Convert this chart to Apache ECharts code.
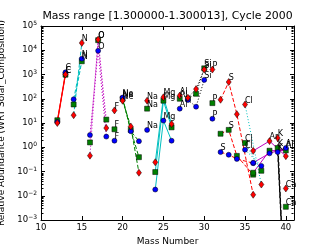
<!DOCTYPE html>
<html><head><meta charset="utf-8">
<script src="https://cdn.jsdelivr.net/npm/echarts@6/dist/echarts.min.js"></script>
<style>html,body{margin:0;padding:0;background:#fff}#c{width:327px;height:245px}</style>
</head><body><div id="c"></div>
<script>
// ---- data ----
const elements = ['C','N','O','F','Ne','Na','Mg','Al','Si','P','S','Cl','Ar','K','Ca'];
const isoMasses = [[12,13],[14,15],[16,17,18],[19],[20,21,22],[23],[24,25,26],[27],[28,29,30],[31],[32,33,34,36],[35,37],[36,38,40],[39,40],[40]];
const redValues = [[10,1000],[21,2.0e4],[0.45,2.75e4,6.2],[33],[83,7.2,0.089],[83],[0.24,115,9.1],[135],[110,250,1600],[1600],[91,490,23,0.011],[58,0.029],[0.71,1.8,0.43],[2.4,1e-7],[0.02]];
const blueValues = [[11,1230],[95,4500],[3.2,9500,2.75],[1.86],[112,4.6,1.78],[5.2],[0.018,12.6,1.86],[39],[89,47,600],[15],[0.63,0.49,0.33,0.22],[0.79,0.17],[0.23,0.56,0.93],[0.63,1e-7],[3e-4]];
const greenValues = [[13,980],[58,3500],[1.58,2.6e4,13.8],[5.5],[100,5.2,0.39],[39],[0.095,83,6.6],[100],[100,160,1800],[66],[3.6,5.2,0.44,0.074],[1.5,0.107],[0.089,0.72,0.74],[0.93,1e-7],[0.0035]];
const xTickLabels = [10,15,20,25,30,35,40];
const yTickExponents = [-3,-2,-1,0,1,2,3,4,5];
const titleText = 'Mass range [1.300000-1.300013], Cycle 2000';
const xName = 'Mass Number';
const yName = 'Relative Abundance (WRT Solar_Composition)';

// ---- styles ----
const FONT = 'DejaVu Sans';
const elemLine = [
  {c:'#ff0000', t:'solid'}, {c:'#00bfbf', t:[4,2]}, {c:'#bf00bf', t:[1,2]}, null,
  {c:'#008000', t:[4,2]}, null, {c:'#00bfbf', t:'solid'}, null,
  {c:'#000000', t:[1,2]}, null, {c:'#ff0000', t:[4,2]}, {c:'#00bfbf', t:[1,2]},
  {c:'#bf00bf', t:'solid'}, {c:'#000000', t:[4,2]}, null
];
const zones = [
  {vals: greenValues, color:'#008000', symbol:'rect', size:5},
  {vals: blueValues, color:'#0000ff', symbol:'circle', size:5},
  {vals: redValues, color:'#ff0000', symbol:'diamond', size:[5,7]}
];
const xMin = 10, xMax = 41, yMin = 1e-3, yMax = 1e5;

const series = [];
zones.forEach(z => {
  elements.forEach((el, i) => {
    const st = elemLine[i];
    if (!st || isoMasses[i].length < 2) return;
    series.push({
      type:'line', xAxisIndex:0, yAxisIndex:0, showSymbol:false, symbol:'none', silent:true, z:2,
      data: isoMasses[i].map((m, k) => [m, z.vals[i][k]]),
      lineStyle:{color:st.c, width:1, type:st.t}, clip:true
    });
  });
});
zones.forEach(z => {
  const data = [];
  elements.forEach((el, i) => {
    const vs = z.vals[i];
    let mi = 0; vs.forEach((v,k)=>{ if (v > vs[mi]) mi = k; });
    isoMasses[i].forEach((m, k) => {
      const item = {value:[m, vs[k]]};
      if (k === mi) item.label = {show:true, formatter: el};
      data.push(item);
    });
  });
  series.push({
    type:'scatter', xAxisIndex:0, yAxisIndex:0, z:3, clip:true, silent:true,
    symbol:z.symbol, symbolSize:z.size,
    itemStyle:{color:z.color, borderColor:'#000', borderWidth:0.5, opacity:1},
    label:{show:false, position:'inside', align:'left', verticalAlign:'bottom', offset:[2,3],
      fontFamily:FONT, fontSize:8, color:'#000'},
    labelLayout:{hideOverlap:false},
    data
  });
});
const minorVals = [];
yTickExponents.slice(0,-1).forEach(e => { for (let k=2;k<=9;k++) minorVals.push([xMin, k*Math.pow(10,e)]); });
series.push({
  type:'custom', xAxisIndex:0, yAxisIndex:0, silent:true, z:4, clip:false,
  data: minorVals,
  renderItem:(params, api) => {
    const v = api.value(1);
    const l = api.coord([xMin, v]);
    const r = api.coord([xMax, v]);
    const y = Math.round(l[1]) + 0.5;
    const xl = Math.round(l[0]) + 0.5, xr = Math.round(r[0]) - 0.5;
    return {type:'group', children:[
      {type:'line', shape:{x1:xl, y1:y, x2:xl+2, y2:y}, style:{stroke:'#000', lineWidth:1}},
      {type:'line', shape:{x1:xr-2, y1:y, x2:xr, y2:y}, style:{stroke:'#000', lineWidth:1}}
    ]};
  }
});

const axisLineStyle = {show:true, lineStyle:{color:'#000', width:1}};
const option = {
  animation:false,
  backgroundColor:'#fff',
  title:{text:titleText, left:167.5, textAlign:'center', top:11, padding:0,
    textStyle:{fontFamily:FONT, fontSize:10.9, fontWeight:'normal', color:'#000'}},
  grid:{left:41, right:33, top:26, bottom:25, containLabel:false, outerBoundsMode:'none'},
  xAxis:[
    {type:'value', position:'bottom', min:xMin, max:xMax, interval:5,
     axisLine:axisLineStyle, splitLine:{show:false},
     axisTick:{show:true, inside:true, length:4, lineStyle:{color:'#000'}},
     axisLabel:{show:true, margin:3, fontFamily:FONT, fontSize:8.5, color:'#000',
       formatter:v => xTickLabels.includes(v) ? String(v) : ''},
     name:xName, nameLocation:'middle', nameGap:10,
     nameTextStyle:{fontFamily:FONT, fontSize:9, color:'#000'}},
    {type:'value', position:'top', min:xMin, max:xMax, interval:5,
     axisLine:axisLineStyle, splitLine:{show:false},
     axisTick:{show:true, inside:true, length:4, lineStyle:{color:'#000'}},
     axisLabel:{show:false}}
  ],
  yAxis:[
    {type:'log', logBase:10, position:'left', min:yMin, max:yMax, interval:1,
     axisLine:axisLineStyle, splitLine:{show:false},
     axisTick:{show:true, inside:true, length:4, lineStyle:{color:'#000'}},
     axisLabel:{show:true, margin:4, color:'#000',
       formatter:v => { const e = Math.round(Math.log10(v)); return '{b|10}{s|' + (e<0?'\u2212'+(-e):e) + '}'; },
       rich:{b:{fontFamily:FONT, fontSize:8.5, lineHeight:11, color:'#000'},
             s:{fontFamily:FONT, fontSize:6, lineHeight:6, verticalAlign:'top', color:'#000'}}},
     name:yName, nameLocation:'middle', nameGap:26, nameRotate:90,
     nameTextStyle:{fontFamily:FONT, fontSize:9, color:'#000'}},
    {type:'log', logBase:10, position:'right', min:yMin, max:yMax, interval:1,
     axisLine:axisLineStyle, splitLine:{show:false},
     axisTick:{show:true, inside:true, length:4, lineStyle:{color:'#000'}},
     axisLabel:{show:false}}
  ],
  series
};
const chart = echarts.init(document.getElementById('c'), null, {renderer:'canvas'});
chart.setOption(option);
</script>
</body></html>
